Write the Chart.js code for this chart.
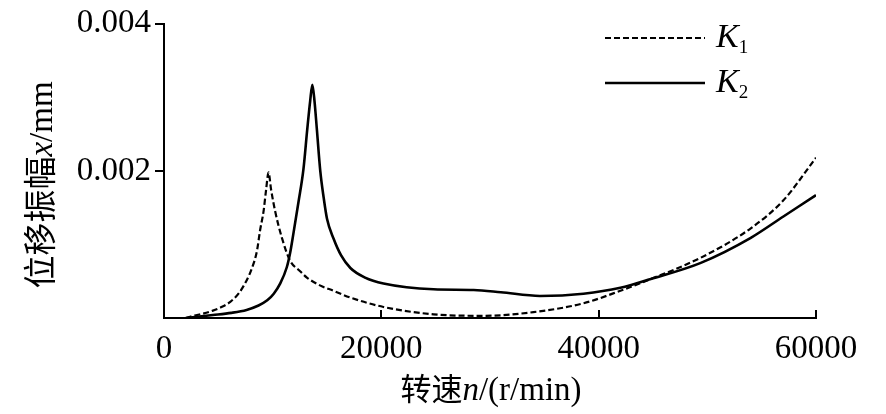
<!DOCTYPE html>
<html>
<head>
<meta charset="utf-8">
<script src="https://cdn.jsdelivr.net/npm/chart.js@4/dist/chart.umd.min.js"></script>
<style>
  html, body { margin: 0; padding: 0; background: #fff; }
  #wrap { width: 886px; height: 414px; position: relative; }
</style>
</head>
<body>
<div id="wrap"><canvas id="chart"></canvas></div>
<script>
// speed n (r/min) and displacement amplitude x (mm)
const speedK1 = [2000, 2700, 3600, 4500, 5300, 6100, 6900, 7600, 8100, 8550, 8850, 9160, 9400, 9620, 9850, 10230, 10850, 11600, 12500, 13150, 14400, 15600, 17100, 20200, 24800, 29400, 34000, 38600, 42000, 44800, 49400, 54000, 57000, 60000];
const ampK1 = [0, 0.00003, 0.00006, 0.0001, 0.00015, 0.00022, 0.00034, 0.00051, 0.00068, 0.00091, 0.0012, 0.00145, 0.00175, 0.00198, 0.00175, 0.00145, 0.00109, 0.00078, 0.00064, 0.00055, 0.00044, 0.00037, 0.00028, 0.00015, 0.00005, 0.00003, 0.00008, 0.0002, 0.00037, 0.00053, 0.00082, 0.00122, 0.0016, 0.00218];

const speedK2 = [2000, 4500, 6200, 7600, 8700, 9500, 10100, 10700, 11300, 11600, 11900, 12380, 12830, 13180, 13450, 13650, 13850, 14070, 14380, 14700, 15000, 15600, 16300, 17150, 18500, 20200, 24800, 28500, 31000, 34600, 38600, 42000, 44800, 49400, 54000, 57000, 60000];
const ampK2 = [0, 0.00004, 0.00007, 0.00011, 0.00017, 0.00024, 0.00033, 0.00047, 0.00069, 0.00088, 0.00114, 0.00158, 0.00202, 0.00256, 0.00295, 0.00317, 0.00295, 0.00256, 0.002, 0.00163, 0.00135, 0.00108, 0.00085, 0.00068, 0.00055, 0.00047, 0.00039, 0.00038, 0.00035, 0.0003, 0.00033, 0.00041, 0.00053, 0.00075, 0.00109, 0.00138, 0.00167];

const xTicks = [0, 20000, 40000, 60000];
const yTicks = [0.002, 0.004];
const seriesNames = ['1', '2']; // subscripts of K

const serif = "'Liberation Serif', 'Times New Roman', serif";
const cjk = "'Liberation Serif', 'Noto Sans CJK SC', serif";

const toPoints = (xs, ys) => xs.map((x, i) => ({ x, y: ys[i] }));

// draw a run of [text, font, dy] pieces one after another
function drawPieces(ctx, pieces, x, y) {
  let cx = x;
  pieces.forEach(([text, font, dy]) => {
    ctx.font = font;
    ctx.fillText(text, cx, y + (dy || 0));
    cx += ctx.measureText(text).width;
  });
}
function piecesWidth(ctx, pieces) {
  return pieces.reduce((w, [text, font]) => { ctx.font = font; return w + ctx.measureText(text).width; }, 0);
}

const decor = {
  id: 'decor',
  afterDraw(chart) {
    const { ctx, scales } = chart;
    const xs = scales.x, ys = scales.y;
    ctx.save();
    ctx.strokeStyle = '#000';
    ctx.fillStyle = '#000';
    ctx.lineWidth = 2;

    // inward ticks on the x axis
    xTicks.filter(v => v > 0).forEach(v => {
      const px = Math.round(xs.getPixelForValue(v));
      ctx.beginPath();
      ctx.moveTo(px, ys.bottom + 1);
      ctx.lineTo(px, ys.bottom - 8);
      ctx.stroke();
    });

    // axis titles
    ctx.textBaseline = 'alphabetic';
    const xTitle = [['转速', '31px ' + cjk], ['n', 'italic 33px ' + serif], ['/(r/min)', '33px ' + serif]];
    const xw = piecesWidth(ctx, xTitle);
    drawPieces(ctx, xTitle, 491 - xw / 2, 400);

    const yTitle = [['位移振幅', '33px ' + cjk], ['x', 'italic 33px ' + serif], ['/mm', '33px ' + serif]];
    ctx.save();
    ctx.translate(52, 185);
    ctx.rotate(-Math.PI / 2);
    const yw = piecesWidth(ctx, yTitle);
    drawPieces(ctx, yTitle, -yw / 2, 0);
    ctx.restore();

    // legend
    chart.data.datasets.forEach((ds, i) => {
      const ly = 38 + i * 45;
      ctx.setLineDash(ds.borderDash || []);
      ctx.lineWidth = ds.borderWidth;
      ctx.beginPath();
      ctx.moveTo(605, ly);
      ctx.lineTo(705, ly);
      ctx.stroke();
      ctx.setLineDash([]);
      drawPieces(ctx, [['K', 'italic 34px ' + serif], [seriesNames[i], '19px ' + serif, 6]], 716, ly + 9);
    });
    ctx.restore();
  }
};

new Chart(document.getElementById('chart'), {
  type: 'line',
  data: {
    datasets: [
      {
        label: 'K1',
        data: toPoints(speedK1, ampK1),
        borderColor: '#000',
        borderWidth: 2.2,
        borderDash: [6, 3],
        pointRadius: 0,
        fill: false,
        cubicInterpolationMode: 'monotone'
      },
      {
        label: 'K2',
        data: toPoints(speedK2, ampK2),
        borderColor: '#000',
        borderWidth: 2.6,
        pointRadius: 0,
        fill: false,
        cubicInterpolationMode: 'monotone'
      }
    ]
  },
  options: {
    responsive: true,
    maintainAspectRatio: false,
    animation: false,
    layout: { padding: { left: 0, right: 70, top: 19, bottom: 0 } },
    plugins: { legend: { display: false }, tooltip: { enabled: false } },
    scales: {
      x: {
        type: 'linear',
        min: 0,
        max: 60000,
        afterFit: s => { s.height = 96; },
        afterBuildTicks: s => { s.ticks = xTicks.map(value => ({ value })); },
        grid: { drawOnChartArea: false, drawTicks: false },
        border: { color: '#000', width: 2 },
        ticks: {
          color: '#000',
          padding: 12,
          maxRotation: 0,
          font: { family: serif, size: 33 },
          callback: v => String(v)
        }
      },
      y: {
        min: 0,
        max: 0.004,
        afterFit: s => { s.width = 164; },
        afterBuildTicks: s => { s.ticks = yTicks.map(value => ({ value })); },
        grid: { drawOnChartArea: false, drawTicks: true, tickLength: 9, color: '#000', lineWidth: 2 },
        border: { color: '#000', width: 2 },
        ticks: {
          color: '#000',
          padding: 4,
          font: { family: serif, size: 33 },
          callback: v => v.toFixed(3)
        }
      }
    }
  },
  plugins: [decor]
});
</script>
</body>
</html>
